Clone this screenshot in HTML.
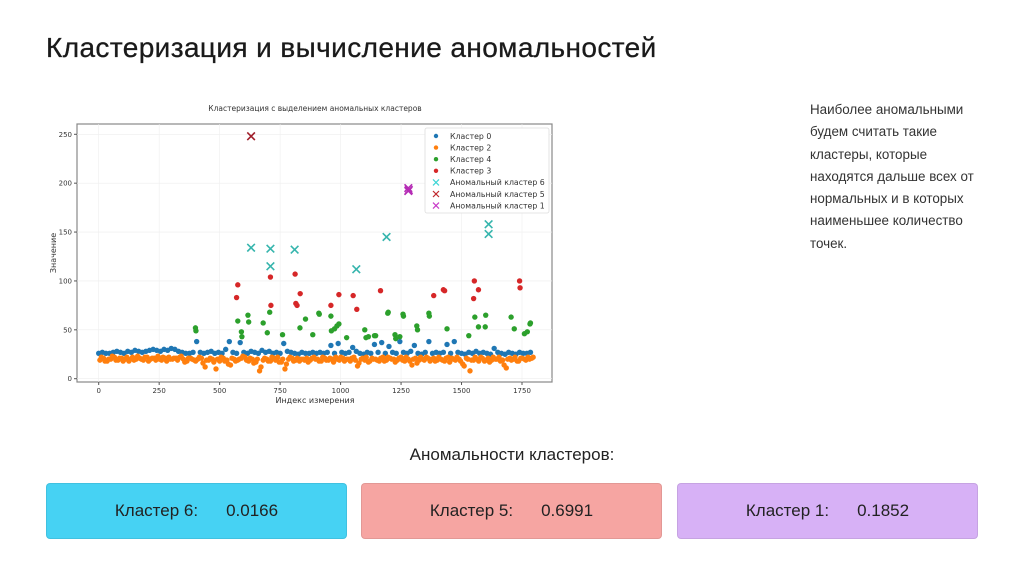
<!DOCTYPE html>
<html><head><meta charset="utf-8"><style>
body{margin:0;width:1024px;height:574px;background:#fff;font-family:"Liberation Sans","DejaVu Sans",sans-serif;position:relative;overflow:hidden}
.t{position:absolute;left:46px;top:32px;font-size:28px;color:#1a1a1a;letter-spacing:0.4px;-webkit-text-stroke:0.3px #1a1a1a}
.p{position:absolute;left:810px;top:99px;font-size:13.4px;line-height:22.3px;color:#333;width:172px}
.h{position:absolute;left:0;width:1024px;text-align:center;top:445px;font-size:17px;color:#222}
.b{position:absolute;top:483px;height:56px;width:301px;border-radius:4px;font-size:17px;color:#222;display:flex;align-items:center;justify-content:center;box-sizing:border-box;border:1px solid rgba(0,0,0,0.08)}
.b span{margin:0 14px}
</style></head><body>
<div class="t">Кластеризация и вычисление аномальностей</div>
<svg id="ch" width="530" height="320" style="position:absolute;left:40px;top:95px" font-family="DejaVu Sans, sans-serif"></svg>
<div class="p">Наиболее аномальными будем считать такие кластеры, которые находятся дальше всех от нормальных и в которых наименьшее количество точек.</div>
<div class="h">Аномальности кластеров:</div>
<div class="b" style="left:46px;background:#46d2f3"><span>Кластер 6:</span><span>0.0166</span></div>
<div class="b" style="left:361px;background:#f6a5a2"><span>Кластер 5:</span><span>0.6991</span></div>
<div class="b" style="left:677px;background:#d7b1f6"><span>Кластер 1:</span><span>0.1852</span></div>
<script>
const xTicks=[0,250,500,750,1000,1250,1500,1750];
const yTicks=[0,50,100,150,200,250];
const stepX=15;
const blueY=[26,27,26,26,27,28,27,26,28,27,29,28,27,28,29,30,29,28,30,29,31,30,28,27,26,26,27,38,27,26,27,28,26,27,26,30,38,27,26,37,27,26,28,27,26,29,27,28,26,27,26,36,28,27,26,25,27,26,26,27,26,27,26,27,34,26,36,27,26,27,32,28,26,25,27,26,35,27,37,26,33,27,26,38,27,26,28,34,26,25,27,38,26,27,26,27,35,26,38,27,26,25,27,26,28,26,27,26,25,31,27,26,25,27,26,25,27,26,26,27];
const orangeY=[19,21,18,20,22,19,21,20,18,22,20,21,19,22,20,21,23,19,21,22,20,21,22,20,18,21,19,20,21,12,19,20,10,18,21,19,14,20,19,21,22,18,20,17,8,19,20,18,21,22,17,10,20,21,19,18,20,21,19,22,20,18,21,19,20,22,19,21,20,18,22,13,20,19,17,21,20,18,22,19,21,20,19,22,18,20,14,21,19,20,22,18,21,19,20,18,22,21,19,20,15,21,8,19,20,22,18,21,19,20,22,19,11,21,20,18,21,20,22,21];
const orange2Y=[22,18,20,23,19,21,18,22,20,19,23,20,22,18,21,19,20,22,18,20,21,19,23,17,21,20,18,22,16,19,21,17,20,22,18,15,21,18,20,23,19,21,16,20,12,21,18,22,19,17,20,15,22,18,21,20,19,17,21,20,18,22,19,21,17,20,22,18,20,21,19,16,21,22,18,20,19,21,18,22,20,17,21,19,22,18,20,16,22,19,21,20,18,22,19,21,17,20,22,18,13,20,19,22,18,21,19,17,22,20,18,14,20,19,22,18,21,19,20,22];
const greenX=[400,402,575,590,592,617,620,680,697,707,760,832,855,885,910,912,960,962,975,985,993,1025,1100,1105,1115,1140,1145,1195,1197,1225,1228,1245,1258,1260,1315,1318,1365,1367,1440,1530,1555,1570,1600,1598,1705,1718,1760,1772,1785,1783];
const greenY=[52,49,59,48,43,65,58,57,47,68,45,52,61,45,67,66,64,49,51,54,56,42,50,42,43,44,44,67,68,45,41,43,66,64,54,50,67,64,51,44,63,53,65,53,63,51,46,48,57,56];
const redX=[570,575,710,712,812,815,820,833,960,993,1052,1067,1165,1385,1425,1430,1550,1553,1570,1740,1742];
const redY=[83,96,104,75,107,77,75,87,75,86,85,71,90,85,91,90,82,100,91,100,93];
const a6X=[630,710,710,810,1065,1190,1612,1612];
const a6Y=[134,133,115,132,112,145,158,148];
const a5X=[630];const a5Y=[248];
const a1X=[1280,1280,1282];const a1Y=[195,192,193];
const legendLabels=["Кластер 0","Кластер 2","Кластер 4","Кластер 3","Аномальный кластер 6","Аномальный кластер 5","Аномальный кластер 1"];
const legendColors=["#1f77b4","#ff7f0e","#2ca02c","#d62728","#3fd6d6","#c0282d","#c83cc8"];

const svg=document.getElementById('ch');const NS="http://www.w3.org/2000/svg";
const X0=58.7,KX=423.3/1750,Y0=283.7,KY=244.4/250;
const sx=v=>X0+v*KX, sy=v=>Y0-v*KY;
function mk(t,a,p){const e=document.createElementNS(NS,t);for(const k in a)e.setAttribute(k,a[k]);(p||svg).appendChild(e);return e;}
const title=mk('text',{x:275,y:16,'text-anchor':'middle','font-size':7.5,fill:'#333'});title.textContent="Кластеризация с выделением аномальных кластеров";


const frame=mk('rect',{x:37,y:29,width:475,height:258,fill:'#fff',stroke:'#888','stroke-width':1.2});


xTicks.forEach(t=>{mk('line',{x1:sx(t),x2:sx(t),y1:29,y2:287,stroke:'#eee','stroke-width':0.6});mk('line',{x1:sx(t),x2:sx(t),y1:287,y2:290,stroke:'#555'});const e=mk('text',{x:sx(t),y:298,'text-anchor':'middle','font-size':7,fill:'#333'});e.textContent=t;

});
yTicks.forEach(t=>{mk('line',{x1:37,x2:512,y1:sy(t),y2:sy(t),stroke:'#eee','stroke-width':0.6});mk('line',{x1:34,x2:37,y1:sy(t),y2:sy(t),stroke:'#555'});const e=mk('text',{x:32,y:sy(t)+2.5,'text-anchor':'end','font-size':7,fill:'#333'});e.textContent=t;

});
const xl=mk('text',{x:275,y:308,'text-anchor':'middle','font-size':8,fill:'#333'});xl.textContent="Индекс измерения";


const yl=mk('text',{x:0,y:0,'text-anchor':'middle','font-size':8,fill:'#333',transform:'translate(16,158) rotate(-90)'});yl.textContent="Значение";


function dot(x,y,c,n){const e=mk('circle',{cx:sx(x),cy:sy(y),r:2.7,fill:c});

}
function cross(x,y,c,n){const X=sx(x),Y=sy(y),s=3.8;const g=mk('g',{stroke:c,'stroke-width':1.6});


mk('line',{x1:X-s,y1:Y-s,x2:X+s,y2:Y+s},g);mk('line',{x1:X-s,y1:Y+s,x2:X+s,y2:Y-s},g);}
blueY.forEach((v,i)=>dot(i*stepX,v,'#1f77b4','cluster-0-point'));
orangeY.forEach((v,i)=>dot(i*stepX+5,v,'#ff7f0e','cluster-2-point'));
orange2Y.forEach((v,i)=>dot(i*stepX+11,v,'#ff7f0e','cluster-2-point'));
greenY.forEach((v,i)=>dot(greenX[i],v,'#2ca02c','cluster-4-point'));
redY.forEach((v,i)=>dot(redX[i],v,'#d62728','cluster-3-point'));
a6Y.forEach((v,i)=>cross(a6X[i],v,'#36b5ad','anomaly-cluster-6-point'));
a5Y.forEach((v,i)=>cross(a5X[i],v,'#a01e2a','anomaly-cluster-5-point'));
a1Y.forEach((v,i)=>cross(a1X[i],v,'#b52cb5','anomaly-cluster-1-point'));
const lg=mk('g',{});


mk('rect',{x:385,y:33,width:124,height:85,fill:'#fff',stroke:'#ddd','stroke-width':0.8,rx:2},lg);
legendLabels.forEach((l,i)=>{const y=41+i*11.6;const g=mk('g',{},lg);


if(i<4)mk('circle',{cx:396,cy:y,r:2.2,fill:legendColors[i]},g);else{mk('line',{x1:393,y1:y-3,x2:399,y2:y+3,stroke:legendColors[i],'stroke-width':1.2},g);mk('line',{x1:393,y1:y+3,x2:399,y2:y-3,stroke:legendColors[i],'stroke-width':1.2},g);}
const t=mk('text',{x:410,y:y+2.8,'font-size':7.8,fill:'#333'},g);t.textContent=l;});
</script>
</body></html>
